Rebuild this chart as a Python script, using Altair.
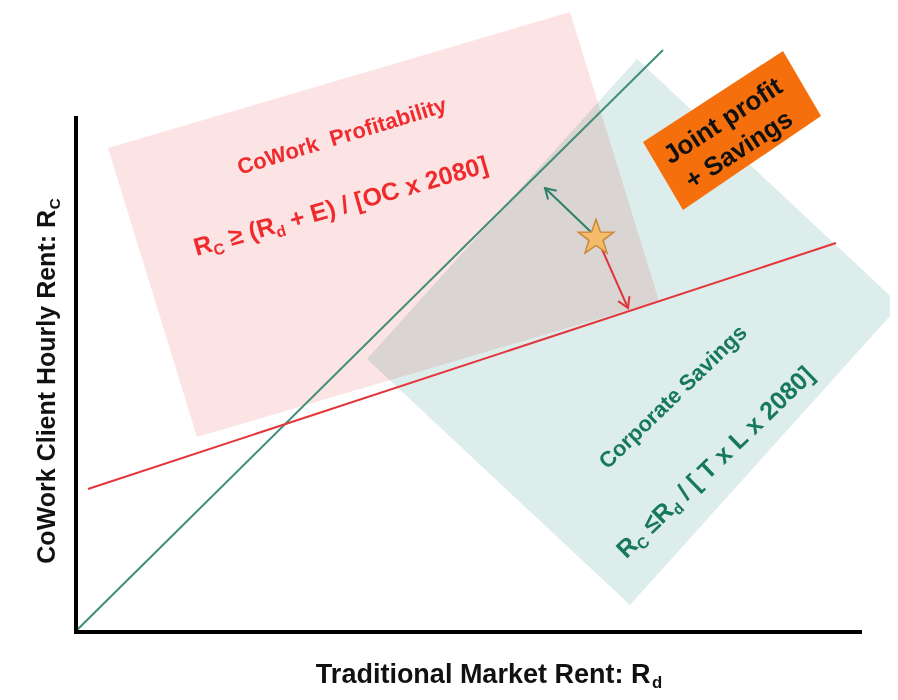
import math
import altair as alt
import pandas as pd

# ---------------- data (diagram units, origin at the axes corner) ----------------
pink_x = [32, 494, 583, 121]
pink_y = [484, 620, 331, 195]
teal_x = [291, 561, 824, 554]
teal_y = [273, 573, 327, 27]
box_x = [567, 707, 745, 607]
box_y = [490, 581, 516, 422]

green_line_x = [1, 587]
green_line_y = [2, 582]
red_line_x = [12, 760]
red_line_y = [143, 389]

axis_x1 = [0, 0]
axis_y1 = [0, 0]
axis_x2 = [784, 0]
axis_y2 = [0, 514]

star_x = [520]
star_y = [394]

arrow_x1 = [515, 525]
arrow_y1 = [400, 385]
arrow_x2 = [469, 552]
arrow_y2 = [444, 324]
arrow_angle = [314, 156]
arrow_color = ["#2f8068", "#e0343c"]

X_DOMAIN = [-68, 814]
Y_DOMAIN = [-60, 624]

# ---------------- helpers ----------------
W_BOLD = {" ": 278, "(": 333, ")": 333, "+": 584, "/": 278, ":": 333, "[": 333, "]": 333,
          "≥": 549, "≤": 549, "A": 722, "B": 722, "C": 722, "D": 722, "E": 667, "F": 611,
          "G": 778, "H": 722, "I": 278, "J": 556, "K": 722, "L": 611, "M": 833, "N": 722,
          "O": 778, "P": 667, "R": 722, "S": 667, "T": 611, "W": 944, "a": 556, "b": 611,
          "c": 556, "d": 611, "e": 556, "f": 333, "g": 611, "h": 611, "i": 278, "k": 556,
          "l": 278, "m": 889, "n": 611, "o": 611, "p": 611, "r": 389, "s": 556, "t": 333,
          "u": 611, "v": 556, "x": 556, "y": 556}


def tw(s, size):
    return sum(W_BOLD.get(ch, 556) for ch in s) / 1000.0 * size


def layout(pieces, cx, cy, angle_ccw, size, color, sub_scale=0.62):
    th = math.radians(angle_ccw)
    ux, uy = math.cos(th), math.sin(th)
    vx, vy = math.sin(th), -math.cos(th)
    sizes = [size * (sub_scale if sub else 1.0) for _, sub in pieces]
    widths = [tw(t, s) for (t, _), s in zip(pieces, sizes)]
    total = sum(widths)
    x0, y0 = cx - ux * total / 2, cy - uy * total / 2
    rows, pos = [], 0.0
    for (t, sub), s, w in zip(pieces, sizes, widths):
        lead = tw(t[: len(t) - len(t.lstrip())], s)
        off = size * 0.2 if sub else 0.0
        p = pos + lead
        rows.append(dict(x=x0 + ux * p + vx * off, y=y0 + uy * p + vy * off,
                         text=t.strip(), size=s, angle=(-angle_ccw) % 360, color=color))
        pos += w
    return rows


def X(f="x"):
    return alt.X(f"{f}:Q", scale=alt.Scale(domain=X_DOMAIN, nice=False, zero=False), axis=None)


def Y(f="y"):
    return alt.Y(f"{f}:Q", scale=alt.Scale(domain=Y_DOMAIN, nice=False, zero=False), axis=None)


def poly(xs, ys, fill, **kw):
    df = pd.DataFrame({"x": xs, "y": ys, "i": list(range(len(xs)))})
    return alt.Chart(df).mark_line(interpolate="linear-closed", fill=fill, strokeOpacity=0, **kw).encode(
        x=X(), y=Y(), order=alt.Order("i:Q"))


def seg(x1, y1, x2, y2, color, width, cap="butt"):
    df = pd.DataFrame({"x": x1, "y": y1, "x2": x2, "y2": y2})
    return alt.Chart(df).mark_rule(color=color, strokeWidth=width, strokeCap=cap).encode(
        x=X(), y=Y(), x2="x2:Q", y2="y2:Q")


def texts(rows, font, baseline="alphabetic", align="left", weight="bold"):
    df = pd.DataFrame(rows)
    return alt.Chart(df).mark_text(font=font, fontWeight=weight, align=align, baseline=baseline).encode(
        x=X(), y=Y(), text="text:N",
        size=alt.Size("size:Q", scale=None, legend=None),
        angle=alt.Angle("angle:Q", scale=None),
        color=alt.Color("color:N", scale=None, legend=None))


SANS = "Liberation Sans, Arial, sans-serif"

RED_T = "#ef2b2d"
TEAL_T = "#17795a"

# ---------------- layers ----------------
pink = poly(pink_x, pink_y, "#fde4e4")
teal = poly(teal_x, teal_y, "#dcedeb", blend="multiply")
box = poly(box_x, box_y, "#f5700c")

axes = seg(axis_x1, axis_y1, axis_x2, axis_y2, "black", 4, "square")
green = seg([green_line_x[0]], [green_line_y[0]], [green_line_x[1]], [green_line_y[1]], "#3f8d78", 2)
red = seg([red_line_x[0]], [red_line_y[0]], [red_line_x[1]], [red_line_y[1]], "#e4353b", 2)

arrow_df = pd.DataFrame({"x": arrow_x1, "y": arrow_y1, "x2": arrow_x2, "y2": arrow_y2,
                         "ang": arrow_angle, "c": arrow_color})
arrow_lines = alt.Chart(arrow_df).mark_rule(strokeWidth=2).encode(
    x=X(), y=Y(), x2="x2:Q", y2="y2:Q", color=alt.Color("c:N", scale=None, legend=None))
arrow_heads = alt.Chart(arrow_df).mark_point(
    shape="M-0.6,1 L0,0 L0.6,1", filled=False, size=420, strokeWidth=2, opacity=1).encode(
    x=X("x2"), y=Y("y2"), angle=alt.Angle("ang:Q", scale=None),
    color=alt.Color("c:N", scale=None, legend=None))

star = alt.Chart(pd.DataFrame({"x": star_x, "y": star_y})).mark_point(
    shape="M0,-1 L0.235,-0.324 L0.951,-0.309 L0.380,0.124 L0.588,0.809 L0,0.4 L-0.588,0.809 L-0.380,0.124 L-0.951,-0.309 L-0.235,-0.324 Z",
    filled=True, fill="#f3bb6a", stroke="#c98a3c", strokeWidth=1.5, size=1400, opacity=1).encode(x=X(), y=Y())

# in-chart texts
single_rows = [
    dict(x=597, y=235, text="Corporate Savings", size=22, angle=316, color=TEAL_T),
    dict(x=647, y=511, text="Joint profit", size=26, angle=327, color="#111111"),
    dict(x=663, y=482, text="+ Savings", size=26, angle=327, color="#111111"),
]
single_txt = texts(single_rows, SANS, baseline="middle", align="center")

formula_rows = []
formula_rows += layout([("CoWork", False), ("  Profitability", False)], 268, 489, 17, 22, RED_T)
formula_rows += layout([("R", False), ("C", True), (" ≥ (R", False), ("d", True),
                        (" + E) / [OC x 2080]", False)], 267, 418, 16, 25, RED_T)
formula_rows += layout([("R", False), ("C", True), (" ≤R", False), ("d", True),
                        (" / [ T x L x 2080]", False)], 645, 164, 44, 25, TEAL_T)
formula_txt = texts(formula_rows, SANS)

title_rows = []
title_rows += layout([("CoWork Client Hourly Rent: R", False), ("C", True)], -21, 251, 90, 25, "#111111")
title_rows += layout([("Traditional Market Rent: R", False), ("d", True)], 413, -51, 0, 27, "#111111")
title_txt = texts(title_rows, SANS)

chart = alt.layer(
    pink, teal, box, green, red, axes, arrow_lines, arrow_heads, star,
    single_txt, formula_txt, title_txt
).properties(
    width=882, height=684, padding=0, background="white",
    autosize=alt.AutoSizeParams(type="none")
).configure_view(stroke=None)

chart.save("out.html", embed_options={"renderer": "svg", "actions": False})
